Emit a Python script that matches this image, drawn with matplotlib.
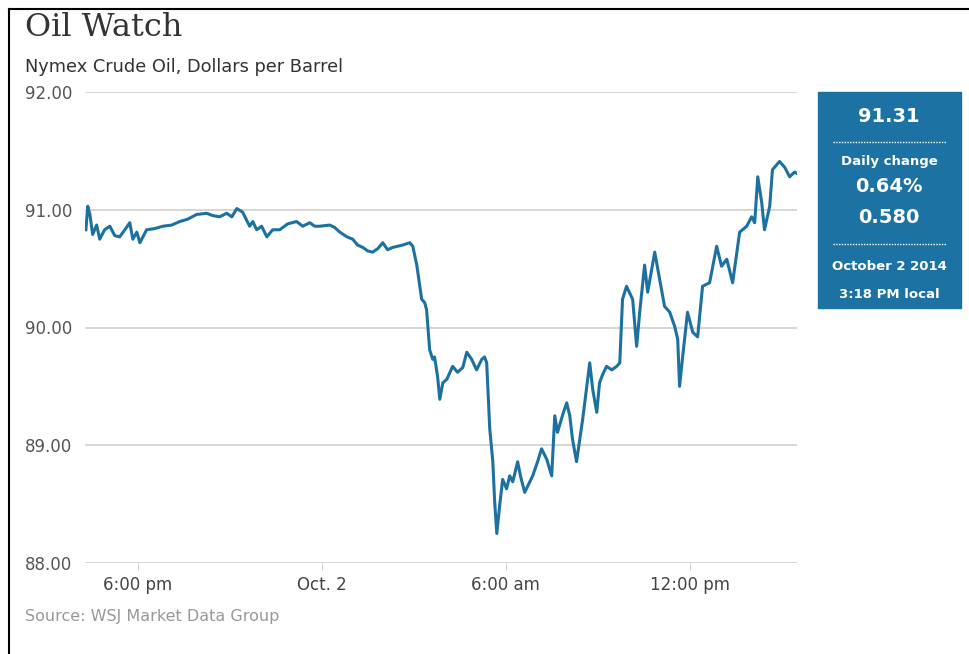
import matplotlib.pyplot as plt
from matplotlib.lines import Line2D
from matplotlib.patches import Rectangle

## Data: hours from midnight Oct 2 (negative = Oct 1 evening), price in $
hours = [-7.69, -7.63, -7.56, -7.47, -7.34, -7.24, -7.08, -6.91, -6.75, -6.59,
         -6.42, -6.26, -6.16, -6.03, -5.93, -5.71, -5.45, -5.18, -4.89, -4.63,
         -4.37, -4.08, -3.75, -3.55, -3.33, -3.10, -2.93, -2.77, -2.58, -2.35,
         -2.25, -2.12, -1.96, -1.79, -1.60, -1.37, -1.11, -0.82, -0.62, -0.39,
         -0.23, -0.07, 0.26, 0.42, 0.59, 0.82, 1.01, 1.17, 1.34, 1.50,
         1.66, 1.83, 1.99, 2.15, 2.31, 2.48, 2.64, 2.87, 2.97, 3.10,
         3.26, 3.36, 3.42, 3.52, 3.62, 3.68, 3.78, 3.85, 3.95, 4.08,
         4.27, 4.43, 4.60, 4.73, 4.89, 5.05, 5.22, 5.31, 5.38, 5.48,
         5.58, 5.64, 5.71, 5.80, 5.90, 6.03, 6.13, 6.23, 6.39, 6.49,
         6.62, 6.75, 6.88, 7.04, 7.17, 7.34, 7.50, 7.60, 7.69, 7.86,
         7.99, 8.09, 8.18, 8.31, 8.51, 8.74, 8.84, 8.97, 9.06, 9.16,
         9.29, 9.46, 9.62, 9.72, 9.81, 9.94, 10.14, 10.27, 10.37, 10.53,
         10.63, 10.86, 11.02, 11.18, 11.35, 11.51, 11.61, 11.67, 11.77, 11.93,
         12.10, 12.26, 12.42, 12.65, 12.88, 13.04, 13.21, 13.40, 13.63, 13.86,
         14.02, 14.12, 14.22, 14.35, 14.44, 14.61, 14.70, 14.93, 15.10, 15.26,
         15.42, 15.49]
prices = [90.83, 91.03, 90.96, 90.79, 90.87, 90.75, 90.83, 90.86, 90.78, 90.77,
          90.83, 90.89, 90.75, 90.81, 90.72, 90.83, 90.84, 90.86, 90.87, 90.90,
          90.92, 90.96, 90.97, 90.95, 90.94, 90.97, 90.94, 91.01, 90.98, 90.86,
          90.90, 90.83, 90.86, 90.77, 90.83, 90.83, 90.88, 90.90, 90.86, 90.89,
          90.86, 90.86, 90.87, 90.85, 90.81, 90.77, 90.75, 90.70, 90.68, 90.65,
          90.64, 90.67, 90.72, 90.66, 90.68, 90.69, 90.70, 90.72, 90.69, 90.53,
          90.24, 90.21, 90.15, 89.81, 89.73, 89.75, 89.58, 89.39, 89.53, 89.56,
          89.67, 89.62, 89.66, 89.79, 89.73, 89.64, 89.73, 89.75, 89.70, 89.14,
          88.86, 88.52, 88.25, 88.48, 88.71, 88.63, 88.74, 88.69, 88.86, 88.73,
          88.60, 88.67, 88.74, 88.86, 88.97, 88.88, 88.74, 89.25, 89.11, 89.26,
          89.36, 89.25, 89.05, 88.86, 89.22, 89.70, 89.47, 89.28, 89.53, 89.60,
          89.67, 89.64, 89.67, 89.70, 90.24, 90.35, 90.24, 89.84, 90.13, 90.53,
          90.30, 90.64, 90.41, 90.18, 90.13, 90.01, 89.90, 89.50, 89.75, 90.13,
          89.96, 89.92, 90.35, 90.38, 90.69, 90.52, 90.58, 90.38, 90.81, 90.86,
          90.94, 90.89, 91.28, 91.06, 90.83, 91.03, 91.34, 91.41, 91.36, 91.28,
          91.32, 91.31]

tick_pos = [-6, 0, 6, 12]
tick_labels = ['6:00 pm', 'Oct. 2', '6:00 am', '12:00 pm']
y_ticks = [88, 89, 90, 91, 92]
y_labels = ['88.00', '89.00', '90.00', '91.00', '92.00']

box_lines = ['91.31', 'Daily change', '0.64%', '0.580', 'October 2 2014', '3:18 PM local']

line_color = '#1c71a0'
box_color = '#1b72a3'

fig = plt.figure(figsize=(9.69, 6.54), dpi=100)
ax = fig.add_axes([85/969, 1 - 563/654, (797 - 85)/969, (563 - 92)/654])

ax.plot(hours, prices, color=line_color, linewidth=2.2, solid_joinstyle='round')
ax.set_xlim(-7.72, 15.5)
ax.set_ylim(88, 92)

## grid + ticks
ax.set_yticks(y_ticks, y_labels)
ax.set_xticks(tick_pos, tick_labels)
ax.grid(axis='y', color='#cccccc', linewidth=1.1)
ax.set_axisbelow(True)
for s in ax.spines.values():
    s.set_visible(False)
ax.tick_params(axis='y', length=0, pad=43, labelsize=12, labelcolor='#555555')
for lab in ax.get_yticklabels():
    lab.set_horizontalalignment('left')
ax.tick_params(axis='x', length=5, color='#d0d0d0', pad=4, labelsize=12,
               labelcolor='#444444')

## titles
fig.text(25/969, 1 - 28/654, 'Oil Watch', family='DejaVu Serif', fontsize=23,
         color='#333333', va='center', ha='left')
fig.text(25/969, 1 - 67/654, 'Nymex Crude Oil, Dollars per Barrel', fontsize=12.8,
         color='#333333', va='center', ha='left')
fig.text(25/969, 1 - 617/654, 'Source: WSJ Market Data Group', fontsize=11.5,
         color='#999999', va='center', ha='left')

## info box
fig.patches.append(Rectangle((818/969, 1 - 308/654), 143/969, 216/654,
                             transform=fig.transFigure, color=box_color))
cx = 889/969
sizes = [14, 9.5, 14, 14, 9.5, 9.5]
ys = [116, 161, 187, 218, 267, 294]
for txt, sz, yy in zip(box_lines, sizes, ys):
    fig.text(cx, 1 - yy/654, txt, color='white', fontsize=sz, weight='bold',
             ha='center', va='center')
for yy in [142, 244]:
    fig.lines.append(Line2D([833/969, 946/969], [1 - yy/654, 1 - yy/654],
                            transform=fig.transFigure, color='white',
                            linestyle=(0, (1, 1)), linewidth=1))

## frame lines (left + top)
fig.lines.append(Line2D([9/969, 9/969], [0, 1 - 9/654], transform=fig.transFigure,
                        color='black', linewidth=1.5))
fig.lines.append(Line2D([9/969, 1], [1 - 9/654, 1 - 9/654], transform=fig.transFigure,
                        color='black', linewidth=1.5))

plt.savefig('out.png', dpi=100)
